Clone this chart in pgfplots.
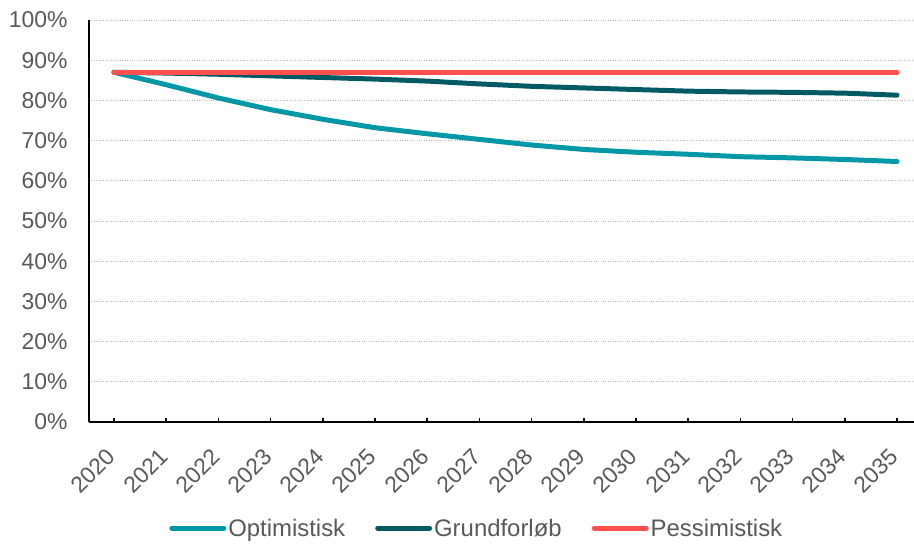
\documentclass[border=0pt]{standalone}
\usepackage{fontspec}
\setmainfont{Liberation Sans}
\usepackage{pgfplots}
\pgfplotsset{compat=1.18}

\definecolor{optcol}{HTML}{0097A7}
\definecolor{grundcol}{HTML}{005A63}
\definecolor{pescol}{HTML}{FF4F4F}
\definecolor{txtgray}{HTML}{595959}

\begin{document}
\begin{tikzpicture}
\begin{axis}[
  name=ax,
  scale only axis,
  width=825bp, height=402bp,
  xmin=2019.521, xmax=2035.326,
  ymin=0, ymax=100,
  axis x line=bottom, axis y line=left,
  axis line style={line width=2.6pt, black, -},
  xtick={2020,...,2035},
  ytick={0,10,...,100},
  yticklabel={\pgfmathprintnumber{\tick}\%},
  xticklabel style={rotate=45, anchor=north east, xshift=-20.3bp, yshift=-8.5bp},
  yticklabel style={xshift=-18bp},
  x tick label style={/pgf/number format/1000 sep={}},
  /pgf/number format/assume math mode=true,
  ticklabel style={font=\fontsize{23}{27}\selectfont, text=txtgray},
  major tick length=4bp,
  xtick style={line width=1.6pt, black},
  ytick style={draw=none},
  tick align=inside,
  ymajorgrids,
  major grid style={gray!55, dotted, line width=0.8pt},
  legend style={
    at={(0.47,-0.264)}, anchor=center, draw=none,
    legend columns=3,
    font=\fontsize{24}{28}\selectfont, text=txtgray,
    /tikz/every even column/.append style={column sep=28bp},
  },
  legend image code/.code={
    \draw[#1, line cap=round] (0bp,0bp) -- (52bp,0bp);
  },
  clip=false,
]
% Optimistisk
\addplot[color=optcol, line width=5pt, line cap=round, line join=round] coordinates {
  (2020,87.0) (2021,83.9) (2022,80.6) (2023,77.7) (2024,75.3) (2025,73.2)
  (2026,71.7) (2027,70.3) (2028,68.9) (2029,67.8) (2030,67.1) (2031,66.6)
  (2032,66.0) (2033,65.7) (2034,65.3) (2035,64.8)
};
% Grundforløb
\addplot[color=grundcol, line width=5pt, line cap=round, line join=round] coordinates {
  (2020,87.0) (2021,86.8) (2022,86.5) (2023,86.1) (2024,85.7) (2025,85.3)
  (2026,84.8) (2027,84.1) (2028,83.5) (2029,83.1) (2030,82.7) (2031,82.3)
  (2032,82.1) (2033,82.0) (2034,81.8) (2035,81.3)
};
% Pessimistisk
\addplot[color=pescol, line width=5pt, line cap=round, line join=round] coordinates {
  (2020,87.0) (2021,87.0) (2022,87.0) (2023,87.0) (2024,87.0) (2025,87.0)
  (2026,87.0) (2027,87.0) (2028,87.0) (2029,87.0) (2030,87.0) (2031,87.0)
  (2032,87.0) (2033,87.0) (2034,87.0) (2035,87.0)
};
\legend{Optimistisk, Grundforløb, Pessimistisk}
\end{axis}
\pgfresetboundingbox
\path[use as bounding box] ([xshift=-89bp,yshift=-122bp]ax.south west) rectangle ([yshift=20bp]ax.north east);
\end{tikzpicture}
\end{document}
